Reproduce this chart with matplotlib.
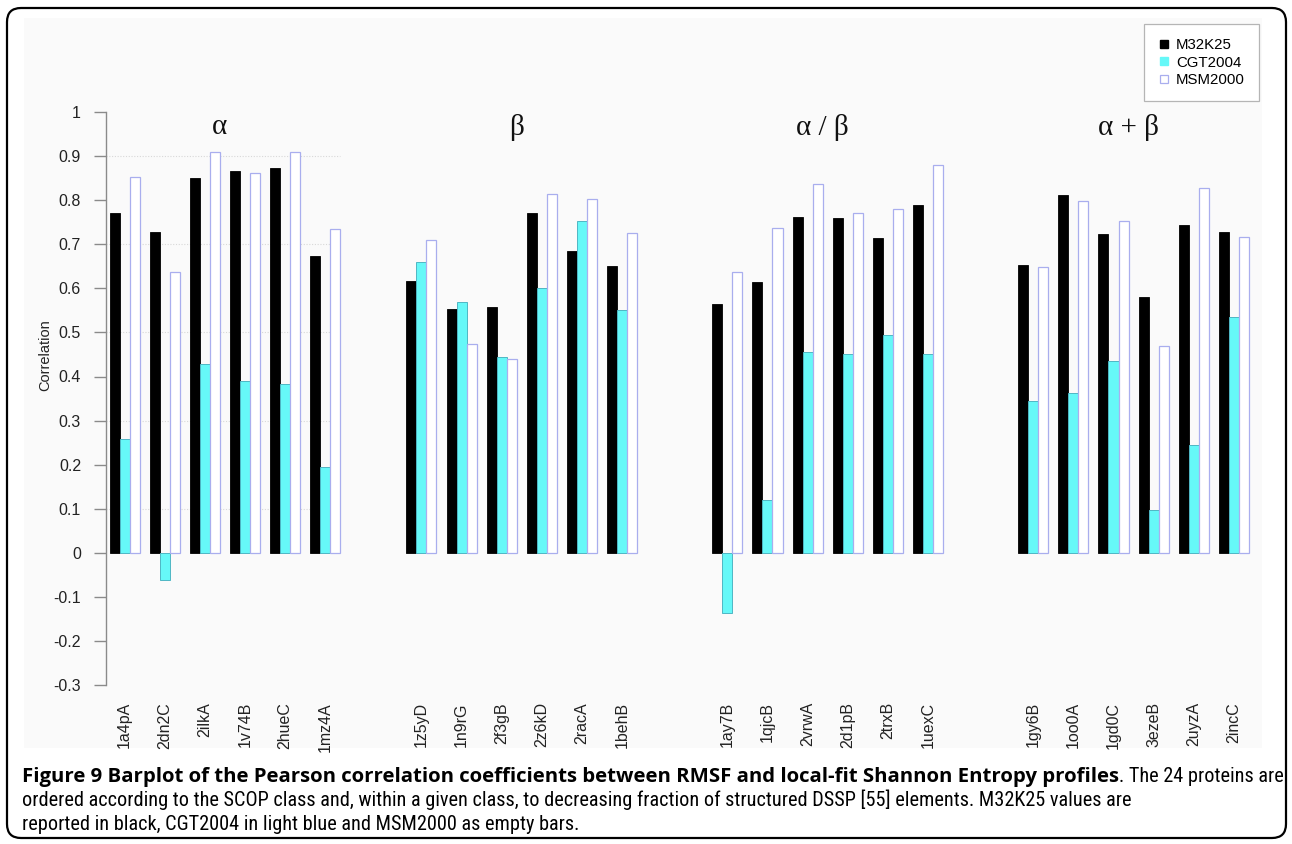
import numpy as np
import matplotlib
matplotlib.use("Agg")
import matplotlib.pyplot as plt
from matplotlib import font_manager
from matplotlib.patches import FancyBboxPatch, Rectangle
from matplotlib.lines import Line2D
from matplotlib.transforms import IdentityTransform

# SCOP classes and the six proteins in each
classes = ["α", "β", "α / β", "α + β"]
proteins = [
    "1a4pA", "2dn2C", "2ilkA", "1v74B", "2hueC", "1mz4A",
    "1z5yD", "1n9rG", "2f3gB", "2z6kD", "2racA", "1behB",
    "1ay7B", "1qjcB", "2vrwA", "2d1pB", "2trxB", "1uexC",
    "1gy6B", "1oo0A", "1gd0C", "3ezeB", "2uyzA", "2incC",
]

# Pearson correlation RMSF vs local-fit Shannon entropy
m32k25 = [0.771, 0.729, 0.851, 0.866, 0.874, 0.673,
          0.616, 0.554, 0.557, 0.771, 0.686, 0.651,
          0.564, 0.615, 0.762, 0.759, 0.715, 0.789,
          0.654, 0.811, 0.724, 0.580, 0.743, 0.728]
cgt2004 = [0.258, -0.062, 0.428, 0.390, 0.384, 0.195,
           0.659, 0.569, 0.444, 0.600, 0.754, 0.551,
           -0.137, 0.120, 0.455, 0.451, 0.494, 0.452,
           0.345, 0.362, 0.435, 0.098, 0.244, 0.535]
msm2000 = [0.852, 0.638, 0.909, 0.862, 0.910, 0.734,
           0.711, 0.473, 0.439, 0.815, 0.803, 0.726,
           0.638, 0.737, 0.838, 0.771, 0.780, 0.880,
           0.649, 0.799, 0.752, 0.470, 0.828, 0.716]

series = ["M32K25", "CGT2004", "MSM2000"]

W, H = 1292, 844
BLACK = "#000000"
CYAN = "#66F8F8"
CYAN_EDGE = "#4FB6C4"
EMPTY_EDGE = "#A9AEEE"
LABEL_FONT = "Liberation Sans"

fig = plt.figure(figsize=(W / 100, H / 100), dpi=100)


def fx(x):
    return x / W


def fy(y):
    return 1 - y / H


def installed(names):
    found = []
    for name in names:
        try:
            font_manager.findfont(font_manager.FontProperties(family=name), fallback_to_default=False)
            found.append(name)
        except ValueError:
            continue
    return found


# faint panel background and rounded frame (pixel coordinates)
fig.patches.append(Rectangle((24, H - 748), 1262 - 24, 748 - 18, transform=IdentityTransform(),
                             facecolor="#FAFAFA", edgecolor="none", zorder=-5))
fig.patches.append(FancyBboxPatch((7, H - 838), 1279, 830,
                                  boxstyle="round,pad=0,rounding_size=14",
                                  transform=IdentityTransform(),
                                  facecolor="none", edgecolor="black", linewidth=1.6, zorder=5))

ax = fig.add_axes([fx(106), fy(700), fx(1262 - 106), 600 / H])
ax.set_facecolor("none")
ax.set_zorder(2)

# layout: 4 bar-units per protein group, wider gaps between SCOP classes
class_gaps = [0, 5.6, 6.5, 6.5]
n_per_class = 6
starts = []
offset = 0.0
for c in range(len(classes)):
    offset += class_gaps[c]
    for g in range(n_per_class):
        starts.append(offset + g * 4)
    offset += n_per_class * 4
starts = np.array(starts)
x0 = 0.35  # first bar sits a little right of the axis

ax.bar(x0 + starts, m32k25, width=1, align="edge", color=BLACK, edgecolor=BLACK, linewidth=0.6, zorder=3)
ax.bar(x0 + starts + 1, cgt2004, width=1, align="edge", color=CYAN, edgecolor=CYAN_EDGE, linewidth=0.7, zorder=3)
ax.bar(x0 + starts + 2, msm2000, width=1, align="edge", color="white", edgecolor=EMPTY_EDGE, linewidth=0.9, zorder=3)

ax.set_xlim(0, (1262 - 106) / 10.03)
ax.set_ylim((552.7 - 700) / 440.5, (552.7 - 100) / 440.5)

# light dotted guide lines across the first class only
alpha_end = x0 + starts[5] + 3
ax.hlines([0.1, 0.3, 0.5, 0.7, 0.9], 0, alpha_end, colors="#D8D8D8", linestyles=(0, (1, 1.5)),
          linewidth=0.8, zorder=1)

for s in ["top", "right", "bottom"]:
    ax.spines[s].set_visible(False)
ax.spines["left"].set_bounds(-0.3, 1.0)
ax.spines["left"].set_color("#8A8A8A")
ax.spines["left"].set_linewidth(1.0)

yt = np.round(np.arange(-0.3, 1.01, 0.1), 1)
ax.set_yticks(yt)
ax.set_yticklabels([f"{v:g}" for v in yt], fontsize=11.5, family=LABEL_FONT, color="#222222")
ax.tick_params(axis="y", length=9, color="#8A8A8A", width=1.0, pad=9)

ax.set_xticks(x0 + starts + 1.5)
ax.set_xticklabels(proteins, rotation=90, fontsize=11.5, family=LABEL_FONT, color="#222222")
ax.tick_params(axis="x", length=0, pad=1.5)

fig.text(fx(45), fy(355), "Correlation", rotation=90, ha="center", va="center",
         fontsize=10.5, family=LABEL_FONT, color="#222222")

# class headings
for c, name in enumerate(classes):
    cx = x0 + starts[c * n_per_class] + 11
    ax.text(cx, 0.966, name, ha="center", va="center", fontsize=21,
            family="Liberation Serif", color="#111111")

handles = [
    Line2D([], [], linestyle="none", marker="s", markersize=6, markerfacecolor=BLACK, markeredgecolor=BLACK),
    Line2D([], [], linestyle="none", marker="s", markersize=6, markerfacecolor=CYAN, markeredgecolor=CYAN),
    Line2D([], [], linestyle="none", marker="s", markersize=6, markerfacecolor="white",
           markeredgecolor=EMPTY_EDGE, markeredgewidth=0.9),
]
leg = fig.legend(handles, series, loc="upper right", bbox_to_anchor=(fx(1259), fy(24)),
                 frameon=True, fancybox=False, edgecolor="#B5B5B5", framealpha=1,
                 prop={"family": LABEL_FONT, "size": 10.8}, handlelength=0.7,
                 handletextpad=0.45, labelspacing=0.22, borderpad=0.95, borderaxespad=0)
leg.get_frame().set_linewidth(0.9)
leg.set_zorder(6)

# caption: regular text sized to line 2, bold title sized to fill line 1
bold_txt = ("Figure 9 Barplot of the Pearson correlation coefficients between RMSF "
            "and local-fit Shannon Entropy profiles")
rest_txt = ". The 24 proteins are"
line2 = ("ordered according to the SCOP class and, within a given class, to decreasing "
         "fraction of structured DSSP [55] elements. M32K25 values are")
line3 = "reported in black, CGT2004 in light blue and MSM2000 as empty bars."

reg_font = (installed(["Roboto Condensed", "DejaVu Sans Condensed", "Liberation Sans Narrow"]) + ["Lato"])[0]
bold_choices = installed(["Roboto", "Lato", "Open Sans", "Noto Sans", "Inter",
                          "Liberation Sans", "DejaVu Sans"])

t_bold = fig.text(fx(22), fy(782), bold_txt, fontsize=12, fontweight="bold", family=bold_choices[0],
                  ha="left", va="baseline")
t_rest = fig.text(0, fy(782), rest_txt, fontsize=12, family=reg_font, ha="left", va="baseline")
t2 = fig.text(fx(22), fy(806), line2, fontsize=12, family=reg_font, ha="left", va="baseline")
t3 = fig.text(fx(22), fy(830), line3, fontsize=12, family=reg_font, ha="left", va="baseline")
fig.canvas.draw()
r = fig.canvas.get_renderer()
reg_size = 12 * (1128 - 22) / t2.get_window_extent(r).width
for t in (t_rest, t2, t3):
    t.set_fontsize(reg_size)
fig.canvas.draw()
wr = t_rest.get_window_extent(r).width

# pick the bold face whose fitted size sits closest to the body text size
best = None
for fam in bold_choices:
    t_bold.set_family(fam)
    t_bold.set_fontsize(12)
    need = 12 * (1283 - 22 - wr) / t_bold.get_window_extent(r).width
    if best is None or abs(need - reg_size) < abs(best[1] - reg_size):
        best = (fam, need)
t_bold.set_family(best[0])
t_bold.set_fontsize(best[1])
wb = t_bold.get_window_extent(r).width
t_rest.set_x(fx(22 + wb))

fig.savefig("out.png", dpi=100)
